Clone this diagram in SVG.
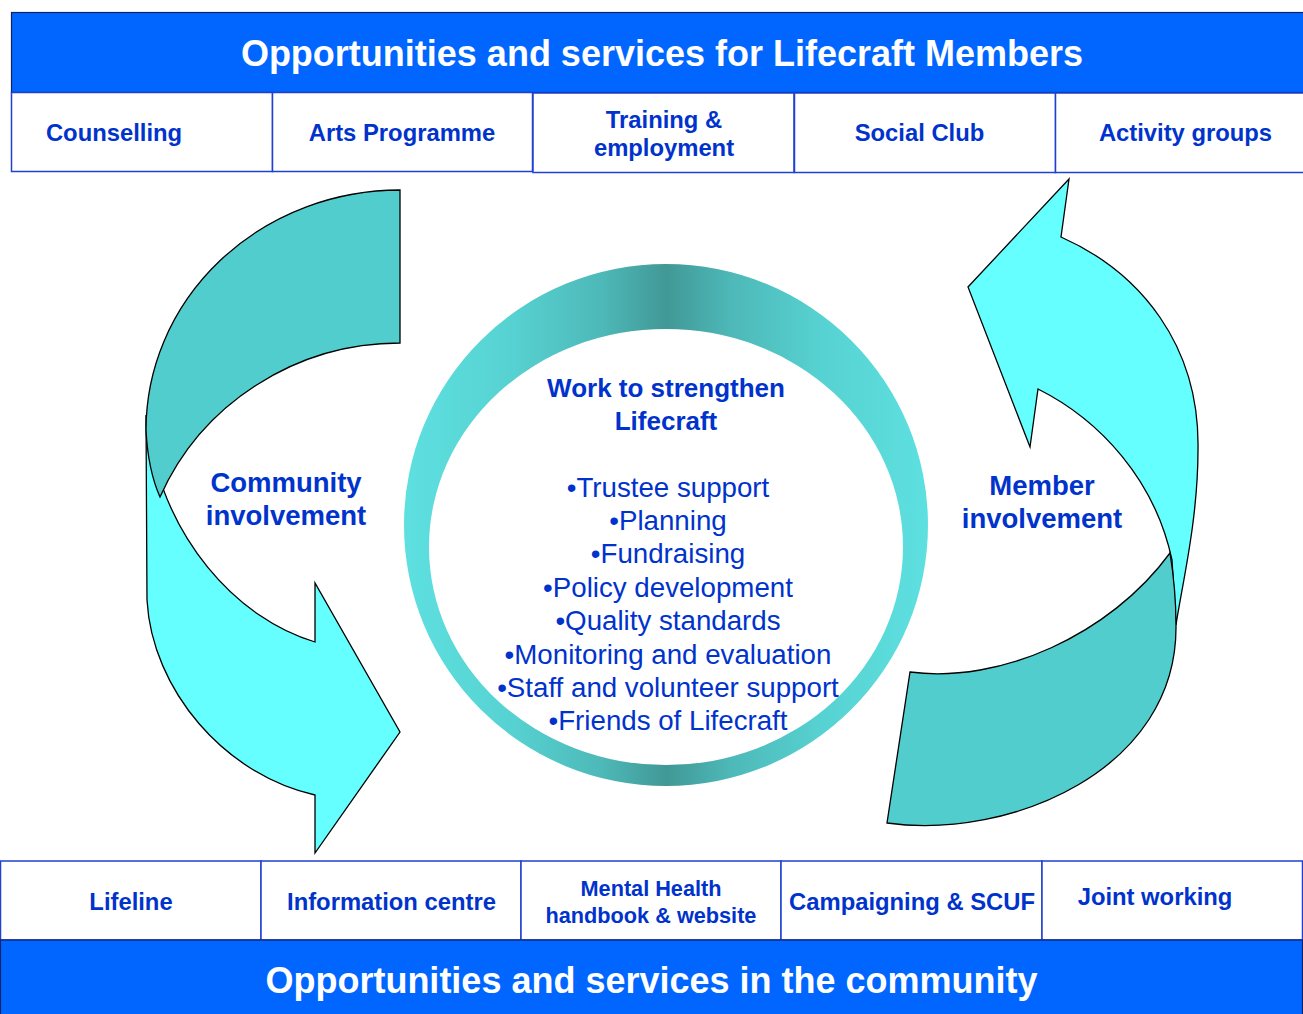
<svg xmlns="http://www.w3.org/2000/svg" width="1303" height="1014" viewBox="0 0 1303 1014">
  <defs>
    <linearGradient id="ringShade" x1="405" y1="0" x2="928" y2="0" gradientUnits="userSpaceOnUse">
      <stop offset="0" stop-color="#5EE0E0"/>
      <stop offset="0.2" stop-color="#57D2D2"/>
      <stop offset="0.38" stop-color="#4DB8B7"/>
      <stop offset="0.5" stop-color="#419896"/>
      <stop offset="0.62" stop-color="#4DB8B7"/>
      <stop offset="0.8" stop-color="#57D2D2"/>
      <stop offset="1" stop-color="#5EE0E0"/>
    </linearGradient>
    <style>
      .banner { fill: #0066FF; stroke: #10206A; stroke-width: 1.2; }
      .banner-text { font-family: "Liberation Sans", Arial, sans-serif; font-weight: bold; font-size: 36px; fill: #FFFFFF; text-anchor: middle; }
      .box { fill: #FFFFFF; stroke: #2040D0; stroke-width: 1.5; }
      .box-text { font-family: "Liberation Sans", Arial, sans-serif; font-weight: bold; font-size: 23.8px; fill: #0033CC; text-anchor: middle; }
      .small { font-size: 21.7px; }
      .label { font-family: "Liberation Sans", Arial, sans-serif; font-weight: bold; font-size: 27.5px; fill: #0033CC; text-anchor: middle; }
      .bullet { font-family: "Liberation Sans", Arial, sans-serif; font-size: 27.7px; fill: #0033CC; text-anchor: middle; }
      .arrow-light { fill: #66FFFF; stroke: #000000; stroke-width: 1.3; stroke-linejoin: miter; }
      .arrow-dark { fill: #52CDCD; stroke: #000000; stroke-width: 1.3; stroke-linejoin: miter; }
    </style>
  </defs>

  <rect width="1303" height="1014" fill="#FFFFFF"/>

  <!-- Top banner -->
  <g id="top-banner">
    <rect class="banner" x="11.5" y="12.5" width="1300" height="80"/>
    <text class="banner-text" x="662" y="66">Opportunities and services for Lifecraft Members</text>
  </g>

  <!-- Member services row -->
  <g id="counselling">
    <rect class="box" x="11.5" y="92.5" width="261" height="79"/>
    <text class="box-text" x="114" y="141">Counselling</text>
  </g>
  <g id="arts-programme">
    <rect class="box" x="272.5" y="92.5" width="260" height="79"/>
    <text class="box-text" x="402" y="141">Arts Programme</text>
  </g>
  <g id="training-employment">
    <rect class="box" x="533" y="93" width="261" height="79.5"/>
    <text class="box-text" x="664" y="128">Training &amp;</text>
    <text class="box-text" x="664" y="156">employment</text>
  </g>
  <g id="social-club">
    <rect class="box" x="794.5" y="93" width="261" height="79.5"/>
    <text class="box-text" x="919.5" y="141">Social Club</text>
  </g>
  <g id="activity-groups">
    <rect class="box" x="1055.5" y="93" width="252" height="79.5"/>
    <text class="box-text" x="1185.5" y="141">Activity groups</text>
  </g>

  <!-- Central ring -->
  <g id="strengthen-lifecraft">
    <path fill="url(#ringShade)" fill-rule="evenodd"
          d="M404,525 A262,261 0 1 0 928,525 A262,261 0 1 0 404,525 Z
             M429,547 A237,218 0 1 0 903,547 A237,218 0 1 0 429,547 Z"/>
    <text class="label" style="font-size:26px" x="666" y="397">Work to strengthen</text>
    <text class="label" style="font-size:26px" x="666" y="430">Lifecraft</text>
    <text class="bullet" x="668" y="497">•Trustee support</text>
    <text class="bullet" x="668" y="530">•Planning</text>
    <text class="bullet" x="668" y="563">•Fundraising</text>
    <text class="bullet" x="668" y="597">•Policy development</text>
    <text class="bullet" x="668" y="630">•Quality standards</text>
    <text class="bullet" x="668" y="664">•Monitoring and evaluation</text>
    <text class="bullet" x="668" y="697">•Staff and volunteer support</text>
    <text class="bullet" x="668" y="730">•Friends of Lifecraft</text>
  </g>

  <!-- Curved arrows -->
  <g id="connectors">
    <!-- community involvement: down and right -->
    <path class="arrow-light" d="M146,415 L147,600 C152,690 225,775 315,795 L315,853 L400,732 L315,583 L315,642 C240,620 160,540 146,415 Z"/>
    <path class="arrow-dark" d="M400,190 A254,240 0 0 0 146,430 Q148,470 160,497 A262,257 0 0 1 400,343 Z"/>
    <!-- member involvement: up and left -->
    <path class="arrow-light" d="M1176,625 C1182,585 1198,520 1198,450 C1200,345 1140,272 1061,237 L1069,179 L968,287 L1030,447 L1038,389 C1100,420 1155,480 1172,560 Z"/>
    <path class="arrow-dark" d="M887,823 C1010,840 1178,770 1176,625 Q1176,590 1170,553 C1110,635 1000,684 910,672 Z"/>
  </g>

  <g id="community-involvement">
    <text class="label" x="286" y="492">Community</text>
    <text class="label" x="286" y="525">involvement</text>
  </g>
  <g id="member-involvement">
    <text class="label" x="1042" y="495">Member</text>
    <text class="label" x="1042" y="528">involvement</text>
  </g>

  <!-- Community services row -->
  <g id="lifeline">
    <rect class="box" x="0.5" y="861" width="260.5" height="79"/>
    <text class="box-text" x="131" y="910">Lifeline</text>
  </g>
  <g id="information-centre">
    <rect class="box" x="261" y="861" width="260" height="79"/>
    <text class="box-text" x="391.5" y="910">Information centre</text>
  </g>
  <g id="mental-health-handbook">
    <rect class="box" x="521" y="861" width="260" height="79"/>
    <text class="box-text small" x="651" y="896">Mental Health</text>
    <text class="box-text small" x="651" y="923">handbook &amp; website</text>
  </g>
  <g id="campaigning-scuf">
    <rect class="box" x="781" y="861" width="261" height="79"/>
    <text class="box-text" x="912" y="910">Campaigning &amp; SCUF</text>
  </g>
  <g id="joint-working">
    <rect class="box" x="1042" y="861" width="260.5" height="79"/>
    <text class="box-text" x="1155" y="905">Joint working</text>
  </g>

  <!-- Bottom banner -->
  <g id="bottom-banner">
    <rect class="banner" x="0.5" y="940" width="1302" height="80"/>
    <text class="banner-text" x="651.5" y="993">Opportunities and services in the community</text>
  </g>
</svg>
